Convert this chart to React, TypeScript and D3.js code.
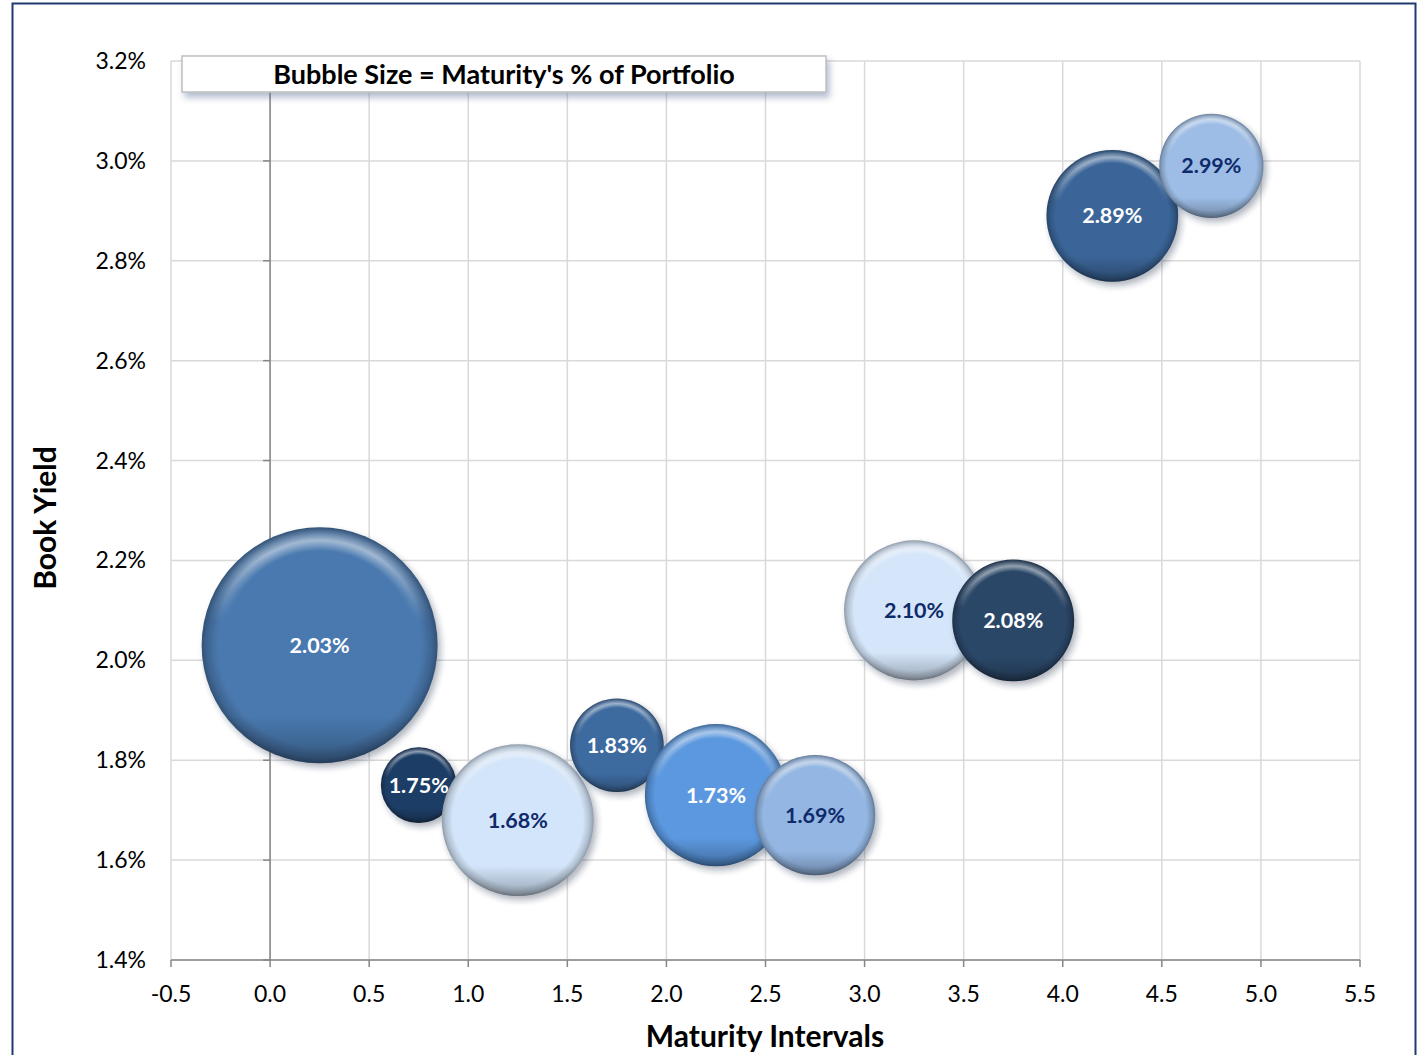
import React, { useEffect, useRef } from 'react';
import * as d3 from 'd3';

// maturity interval (years), book yield (%), share of portfolio (%)
const maturity = [0.25, 0.75, 1.25, 1.75, 2.25, 2.75, 3.25, 3.75, 4.25, 4.75];
const bookYield = [2.03, 1.75, 1.68, 1.83, 1.73, 1.69, 2.1, 2.08, 2.89, 2.99];
const portfolioShare = [29.2, 3.0, 12.1, 4.6, 10.6, 7.6, 10.3, 7.8, 9.1, 5.7];
const bubbleColors = [
  '#4a79af', '#1f3d66', '#d3e5fa', '#3e6a9f', '#5b98df',
  '#93b6e2', '#d5e6fa', '#2b4768', '#3a6598', '#9dbde6',
];
const labelColors = [
  '#ffffff', '#ffffff', '#0f2a6b', '#ffffff', '#ffffff',
  '#0f2a6b', '#0f2a6b', '#ffffff', '#ffffff', '#0f2a6b',
];
const xTicks = [-0.5, 0, 0.5, 1, 1.5, 2, 2.5, 3, 3.5, 4, 4.5, 5, 5.5];
const yTicks = [1.4, 1.6, 1.8, 2.0, 2.2, 2.4, 2.6, 2.8, 3.0, 3.2];

const W = 1420;
const H = 1055;
const FONT = 'Lato, "Open Sans", sans-serif';

const App: React.FC = () => {
  const svgRef = useRef<SVGSVGElement>(null);

  useEffect(() => {
    if (!svgRef.current) return;
    const svg = d3.select(svgRef.current);
    svg.selectAll('*').remove();

    const plot = { left: 171, right: 1360, top: 61, bottom: 960 };

    const xScale = d3.scaleLinear().domain([-0.5, 5.5]).range([plot.left, plot.right]);
    const yScale = d3.scaleLinear().domain([1.4, 3.2]).range([plot.bottom, plot.top]);
    const rScale = d3
      .scaleSqrt()
      .domain([0, d3.max(portfolioShare) || 1])
      .range([0, 118]);

    const defs = svg.append('defs');

    // soft shadow for bubbles and legend box
    const shadow = defs.append('filter').attr('id', 'bubble-shadow')
      .attr('x', '-20%').attr('y', '-20%').attr('width', '150%').attr('height', '150%');
    shadow.append('feDropShadow')
      .attr('dx', 3).attr('dy', 4).attr('stdDeviation', 3)
      .attr('flood-color', '#1a2a40').attr('flood-opacity', 0.35);

    const boxShadow = defs.append('filter').attr('id', 'box-shadow')
      .attr('x', '-10%').attr('y', '-30%').attr('width', '120%').attr('height', '190%');
    boxShadow.append('feDropShadow')
      .attr('dx', 3).attr('dy', 5).attr('stdDeviation', 3)
      .attr('flood-color', '#5a6f99').attr('flood-opacity', 0.45);

    // edge darkening per colour
    bubbleColors.forEach((c, i) => {
      const g = defs.append('radialGradient').attr('id', `bub-${i}`)
        .attr('cx', '50%').attr('cy', '50%').attr('r', '50%');
      const base = d3.color(c)!;
      g.append('stop').attr('offset', '0%').attr('stop-color', base.formatHex());
      g.append('stop').attr('offset', '86%').attr('stop-color', base.formatHex());
      g.append('stop').attr('offset', '95%').attr('stop-color', base.darker(0.5).formatHex());
      g.append('stop').attr('offset', '100%').attr('stop-color', base.darker(1.1).formatHex());
    });

    // light rim that follows the circle, shown only on the upper part
    const rim = defs.append('radialGradient').attr('id', 'rim-light')
      .attr('cx', '50%').attr('cy', '50%').attr('r', '50%');
    rim.append('stop').attr('offset', '80%').attr('stop-color', '#fff').attr('stop-opacity', 0);
    rim.append('stop').attr('offset', '89%').attr('stop-color', '#fff').attr('stop-opacity', 0.5);
    rim.append('stop').attr('offset', '96%').attr('stop-color', '#fff').attr('stop-opacity', 0.15);
    rim.append('stop').attr('offset', '100%').attr('stop-color', '#fff').attr('stop-opacity', 0);

    const topFade = defs.append('linearGradient').attr('id', 'top-fade')
      .attr('x1', 0).attr('y1', 0).attr('x2', 0).attr('y2', 1);
    topFade.append('stop').attr('offset', '0%').attr('stop-color', '#fff');
    topFade.append('stop').attr('offset', '12%').attr('stop-color', '#fff');
    topFade.append('stop').attr('offset', '40%').attr('stop-color', '#000');
    defs.append('mask').attr('id', 'top-mask')
      .attr('maskContentUnits', 'objectBoundingBox')
      .append('rect').attr('width', 1).attr('height', 1).attr('fill', 'url(#top-fade)');

    // shade at bottom
    const bevel = defs.append('linearGradient').attr('id', 'bevel')
      .attr('x1', 0).attr('y1', 0).attr('x2', 0).attr('y2', 1);
    bevel.append('stop').attr('offset', '80%').attr('stop-color', '#000').attr('stop-opacity', 0);
    bevel.append('stop').attr('offset', '100%').attr('stop-color', '#000').attr('stop-opacity', 0.28);

    svg.append('rect').attr('width', W).attr('height', H).attr('fill', '#fff');

    // outer frame
    svg.append('rect')
      .attr('x', 12.5).attr('y', 3.5).attr('width', 1403).attr('height', 1070)
      .attr('fill', 'none').attr('stroke', '#1f3a72').attr('stroke-width', 2);

    // grid
    const grid = svg.append('g');
    grid.selectAll('.gx').data(xTicks).join('line')
      .attr('x1', (d) => xScale(d)).attr('x2', (d) => xScale(d))
      .attr('y1', plot.top).attr('y2', plot.bottom)
      .attr('stroke', '#d9d9d9').attr('stroke-width', 1.5);
    grid.selectAll('.gy').data(yTicks).join('line')
      .attr('x1', plot.left).attr('x2', plot.right)
      .attr('y1', (d) => yScale(d)).attr('y2', (d) => yScale(d))
      .attr('stroke', '#d9d9d9').attr('stroke-width', 1.5);

    // y axis crosses at x = 0
    const x0 = xScale(0);
    svg.append('line')
      .attr('x1', x0).attr('x2', x0).attr('y1', plot.top).attr('y2', plot.bottom)
      .attr('stroke', '#868686').attr('stroke-width', 1.5);
    svg.selectAll('.ytick').data(yTicks).join('line')
      .attr('x1', x0 - 7).attr('x2', x0)
      .attr('y1', (d) => yScale(d)).attr('y2', (d) => yScale(d))
      .attr('stroke', '#868686').attr('stroke-width', 1.5);

    // x axis
    svg.append('line')
      .attr('x1', plot.left).attr('x2', plot.right).attr('y1', plot.bottom).attr('y2', plot.bottom)
      .attr('stroke', '#868686').attr('stroke-width', 1.5);
    svg.selectAll('.xtick').data(xTicks).join('line')
      .attr('x1', (d) => xScale(d)).attr('x2', (d) => xScale(d))
      .attr('y1', plot.bottom).attr('y2', plot.bottom + 7)
      .attr('stroke', '#868686').attr('stroke-width', 1.5);

    // tick labels
    svg.selectAll('.ylab').data(yTicks).join('text')
      .attr('x', 146).attr('y', (d) => yScale(d))
      .attr('dy', '0.35em').attr('text-anchor', 'end')
      .attr('font-family', FONT).attr('font-size', 23).attr('fill', '#000')
      .text((d) => `${d.toFixed(1)}%`);
    svg.selectAll('.xlab').data(xTicks).join('text')
      .attr('x', (d) => xScale(d)).attr('y', 994)
      .attr('dy', '0.35em').attr('text-anchor', 'middle')
      .attr('font-family', FONT).attr('font-size', 23).attr('fill', '#000')
      .text((d) => d.toFixed(1));

    // axis titles
    svg.append('text')
      .attr('x', 765).attr('y', 1036).attr('dy', '0.35em')
      .attr('text-anchor', 'middle').attr('font-family', FONT)
      .attr('font-size', 30).attr('font-weight', 'bold').attr('fill', '#000')
      .text('Maturity Intervals');
    svg.append('text')
      .attr('transform', 'translate(45,518) rotate(-90)').attr('dy', '0.35em')
      .attr('text-anchor', 'middle').attr('font-family', FONT)
      .attr('font-size', 30).attr('font-weight', 'bold').attr('fill', '#000')
      .text('Book Yield');

    // bubbles
    const bubbles = svg.append('g').selectAll('g').data(maturity).join('g')
      .attr('transform', (d, i) => `translate(${xScale(d)},${yScale(bookYield[i])})`);
    bubbles.append('circle')
      .attr('r', (_, i) => rScale(portfolioShare[i]))
      .attr('fill', (_, i) => `url(#bub-${i})`)
      .attr('filter', 'url(#bubble-shadow)');
    bubbles.append('circle')
      .attr('r', (_, i) => rScale(portfolioShare[i]))
      .attr('fill', 'url(#rim-light)')
      .attr('mask', 'url(#top-mask)');
    bubbles.append('circle')
      .attr('r', (_, i) => rScale(portfolioShare[i]))
      .attr('fill', 'url(#bevel)');
    bubbles.append('text')
      .attr('dy', '0.35em').attr('text-anchor', 'middle')
      .attr('font-family', FONT).attr('font-size', 21.5).attr('font-weight', 'bold')
      .attr('fill', (_, i) => labelColors[i])
      .text((_, i) => `${bookYield[i].toFixed(2)}%`);

    // legend note
    svg.append('rect')
      .attr('x', 182).attr('y', 56).attr('width', 644).attr('height', 36)
      .attr('fill', '#fff').attr('stroke', '#bfbfbf').attr('stroke-width', 1.5)
      .attr('filter', 'url(#box-shadow)');
    svg.append('text')
      .attr('x', 504).attr('y', 75).attr('dy', '0.35em')
      .attr('text-anchor', 'middle').attr('font-family', FONT)
      .attr('font-size', 27).attr('font-weight', 'bold').attr('fill', '#000')
      .text("Bubble Size = Maturity's % of Portfolio");
  }, []);

  return (
    <svg
      ref={svgRef}
      width={W}
      height={H}
      style={{ position: 'absolute', left: 0, top: 0, display: 'block' }}
    />
  );
};

export default App;
